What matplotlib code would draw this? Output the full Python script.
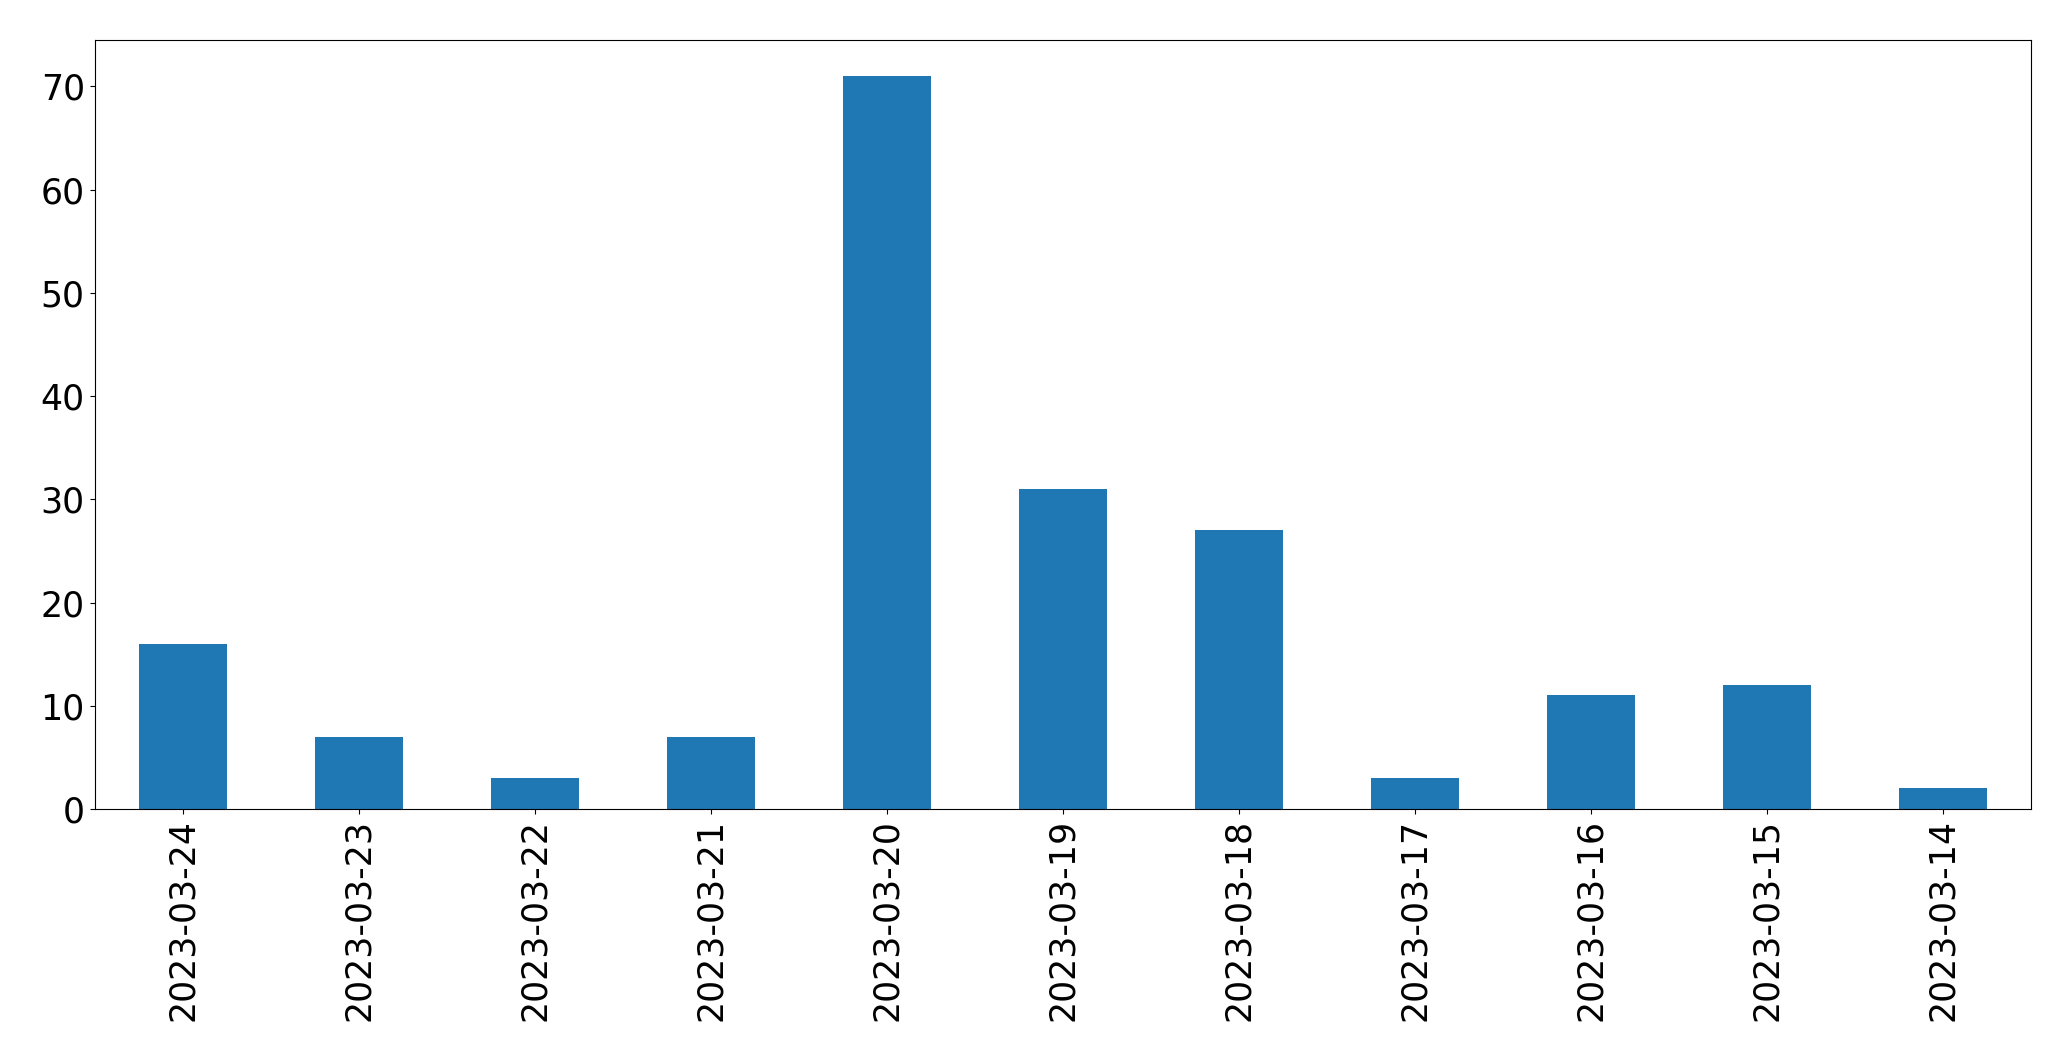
import matplotlib
matplotlib.use("Agg")
import matplotlib.pyplot as plt
import pandas as pd

# daily counts, newest first
dates = ["2023-03-24", "2023-03-23", "2023-03-22", "2023-03-21", "2023-03-20",
         "2023-03-19", "2023-03-18", "2023-03-17", "2023-03-16", "2023-03-15",
         "2023-03-14"]
counts = [16, 7, 3, 7, 71, 31, 27, 3, 11, 12, 2]

s = pd.Series(counts, index=dates)

fig = plt.figure(figsize=(20.71, 10.61), dpi=100)
ax = fig.add_axes([94.5 / 2071, 1 - 809 / 1061, (2031 - 94.5) / 2071, (809 - 39.5) / 1061])
s.plot(kind="bar", ax=ax, color="#1f77b4")
ax.tick_params(axis="both", labelsize=25)
fig.savefig("out.png", dpi=100)
